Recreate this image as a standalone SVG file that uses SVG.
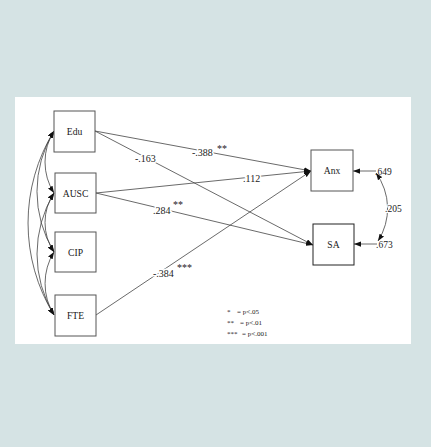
<svg xmlns="http://www.w3.org/2000/svg" width="431" height="447" viewBox="0 0 431 447">
<style>
.box{fill:#fff;stroke:#555;stroke-width:1}
.nl{font-family:"Liberation Serif","Times New Roman",serif;font-size:9.6px;fill:#1a1a1a;text-anchor:middle}
.ln{fill:none;stroke:#444;stroke-width:0.8}
.lb{font-family:"Liberation Serif","Times New Roman",serif;font-size:10px;fill:#222;paint-order:stroke;stroke:#fff;stroke-width:3px}
.st{font-family:"Liberation Serif","Times New Roman",serif;font-size:10px;fill:#222}
.rs{font-family:"Liberation Serif","Times New Roman",serif;font-size:9.5px;fill:#222}
.lg{font-family:"Liberation Serif","Times New Roman",serif;font-size:7px;fill:#222}
</style>
<defs>
<marker id="ah" viewBox="0 0 8 6" refX="8" refY="3" markerWidth="7" markerHeight="5.5" markerUnits="userSpaceOnUse" orient="auto-start-reverse">
<path d="M0,0 L8,3 L0,6 z" fill="#111"/>
</marker>
</defs>
<rect x="0" y="0" width="431" height="447" fill="#d5e3e4"/>
<rect x="15" y="97" width="396" height="247" fill="#fff"/>
<g id="connectors">
<line class="ln" x1="95" y1="131" x2="311" y2="171" marker-end="url(#ah)"/>
<line class="ln" x1="95" y1="131" x2="313" y2="245" marker-end="url(#ah)"/>
<line class="ln" x1="96" y1="193" x2="311" y2="171" marker-end="url(#ah)"/>
<line class="ln" x1="96" y1="193" x2="313" y2="245" marker-end="url(#ah)"/>
<line class="ln" x1="96" y1="315" x2="311" y2="171" marker-end="url(#ah)"/>
<path class="ln" d="M54 131 A58 58 0 0 0 54 193" marker-start="url(#ah)" marker-end="url(#ah)"/>
<path class="ln" d="M54 193 A53 53 0 0 0 54 252" marker-start="url(#ah)" marker-end="url(#ah)"/>
<path class="ln" d="M54 252 A60 60 0 0 0 54 315" marker-start="url(#ah)" marker-end="url(#ah)"/>
<path class="ln" d="M54 131 A116 116 0 0 0 54 252" marker-start="url(#ah)" marker-end="url(#ah)"/>
<path class="ln" d="M54 193 A118 118 0 0 0 54 315" marker-start="url(#ah)" marker-end="url(#ah)"/>
<path class="ln" d="M54 131 A176 176 0 0 0 54 315" marker-start="url(#ah)" marker-end="url(#ah)"/>
<line class="ln" x1="376" y1="171" x2="353" y2="171" marker-end="url(#ah)"/>
<line class="ln" x1="377" y1="244" x2="354" y2="244" marker-end="url(#ah)"/>
<text class="rs" x="375" y="175">.649</text>
<text class="rs" x="376" y="248">.673</text>
<path class="ln" d="M376 173 A60 60 0 0 1 378 241" marker-start="url(#ah)" marker-end="url(#ah)"/>
<text class="rs" x="385" y="212" style="paint-order:stroke;stroke:#fff;stroke-width:2px">.205</text>
<text class="lb" x="192" y="156">-.388</text>
<text class="st" x="217" y="152">**</text>
<text class="lb" x="135" y="162">-.163</text>
<text class="lb" x="243" y="182">.112</text>
<text class="lb" x="153" y="214">.284</text>
<text class="st" x="173" y="208">**</text>
<text class="lb" x="153" y="277">-.384</text>
<text class="st" x="177" y="271">***</text>
</g>
<g id="Edu"><rect class="box" x="54" y="111" width="41" height="41"/><text class="nl" x="74.5" y="135">Edu</text></g>
<g id="AUSC"><rect class="box" x="55" y="173" width="41" height="40"/><text class="nl" x="75.5" y="197">AUSC</text></g>
<g id="CIP"><rect class="box" x="55" y="232" width="41" height="40"/><text class="nl" x="75.5" y="256">CIP</text></g>
<g id="FTE"><rect class="box" x="55" y="295" width="41" height="41"/><text class="nl" x="75.5" y="319">FTE</text></g>
<g id="Anx"><rect class="box" x="311" y="150" width="42" height="41"/><text class="nl" x="332" y="174">Anx</text></g>
<g id="SA"><rect class="box" x="313" y="224" width="41" height="41" style="stroke:#222"/><text class="nl" x="333.5" y="248">SA</text></g>
<g id="legend">
<text class="lg" x="227" y="314">*</text><text class="lg" x="237" y="314">= p&lt;.05</text>
<text class="lg" x="227" y="325">**</text><text class="lg" x="240" y="325">= p&lt;.01</text>
<text class="lg" x="227" y="336">***</text><text class="lg" x="242" y="336">= p&lt;.001</text>
</g>
</svg>
